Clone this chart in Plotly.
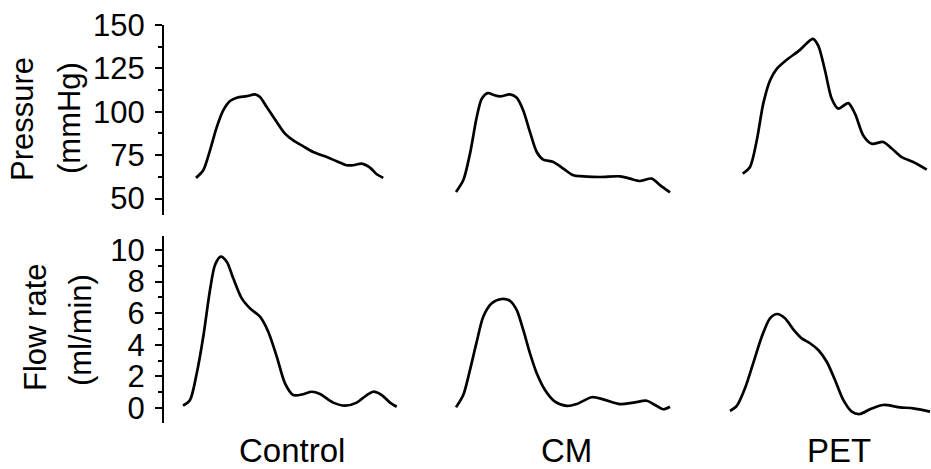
import plotly.graph_objects as go

W, H = 931, 469

# ---- data (time in s, pressure in mmHg, flow in ml/min) ----
ctrl_p_t = [0.052, 0.081, 0.108, 0.135, 0.161, 0.188, 0.215, 0.255, 0.288, 0.308, 0.335, 0.375,
            0.408, 0.441, 0.481, 0.521, 0.575, 0.615, 0.655, 0.681, 0.715, 0.748, 0.775, 0.801]
ctrl_p = [61.9, 66.3, 77.8, 91.2, 100.8, 106.2, 108.1, 109.0, 110.0, 108.5, 102.7, 94.1,
          87.4, 83.5, 80.1, 76.8, 73.9, 71.5, 69.2, 69.2, 70.1, 67.8, 64.0, 61.9]

cm_p_t = [0.0, 0.029, 0.056, 0.083, 0.103, 0.127, 0.149, 0.176, 0.216, 0.243, 0.269, 0.296, 0.323,
          0.349, 0.389, 0.429, 0.469, 0.509, 0.576, 0.656, 0.696, 0.736, 0.783, 0.816, 0.856]
cm_p = [53.8, 60.5, 75.9, 97.0, 107.5, 110.8, 109.8, 108.9, 110.0, 108.1, 100.8, 88.3, 76.8,
        72.4, 71.1, 67.3, 63.4, 62.8, 62.4, 62.8, 61.5, 60.1, 61.5, 57.7, 53.5]

pet_p_t = [0.051, 0.08, 0.107, 0.133, 0.16, 0.187, 0.227, 0.28, 0.307, 0.331, 0.353, 0.38,
           0.407, 0.433, 0.473, 0.5, 0.533, 0.567, 0.613, 0.647, 0.687, 0.733, 0.787]
pet_p = [64.4, 68.2, 83.5, 104.7, 118.1, 124.8, 130.0, 135.7, 139.5, 142.1, 138.2, 123.8,
         107.5, 101.8, 105.0, 98.9, 86.4, 81.6, 82.6, 78.8, 73.9, 71.1, 66.7]

ctrl_f_t = [0.0, 0.028, 0.055, 0.081, 0.108, 0.128, 0.151, 0.175, 0.201, 0.235, 0.268, 0.308,
            0.341, 0.375, 0.408, 0.441, 0.481, 0.515, 0.548, 0.601, 0.648, 0.695, 0.735, 0.761,
            0.795, 0.828, 0.855]
ctrl_f = [0.15, 0.51, 2.2, 4.51, 7.47, 9.05, 9.58, 9.26, 8.21, 6.94, 6.31, 5.78,
          4.83, 3.25, 1.56, 0.82, 0.87, 1.03, 0.89, 0.34, 0.15, 0.34, 0.82, 1.03,
          0.82, 0.34, 0.08]

cm_f_t = [0.0, 0.029, 0.056, 0.083, 0.109, 0.143, 0.183, 0.216, 0.243, 0.269, 0.296, 0.323,
          0.356, 0.396, 0.443, 0.483, 0.543, 0.589, 0.656, 0.709, 0.763, 0.796, 0.829, 0.856]
cm_f = [0.04, 0.82, 2.41, 4.2, 5.78, 6.63, 6.9, 6.79, 6.2, 4.94, 3.46, 2.2,
        1.14, 0.4, 0.13, 0.25, 0.68, 0.55, 0.25, 0.34, 0.46, 0.19, -0.08, 0.08]

pet_f_t = [0.0, 0.027, 0.06, 0.093, 0.127, 0.16, 0.189, 0.22, 0.253, 0.287, 0.32, 0.353,
           0.387, 0.42, 0.453, 0.487, 0.52, 0.56, 0.613, 0.68, 0.733, 0.8]
pet_f = [-0.19, 0.13, 1.25, 2.84, 4.51, 5.68, 5.95, 5.68, 4.98, 4.41, 4.1, 3.67,
         2.93, 1.77, 0.51, -0.23, -0.38, -0.08, 0.19, 0.04, -0.02, -0.23]

groups = ["Control", "CM", "PET"]
p_ticks = [50, 75, 100, 125, 150]
f_ticks = [0, 2, 4, 6, 8, 10]

FONT = "Liberation Sans, Arial, sans-serif"
line = dict(color="black", width=2.7, shape="spline", smoothing=0.8)

fig = go.Figure()
series = [
    ("x", "y", ctrl_p_t, ctrl_p), ("x2", "y", cm_p_t, cm_p), ("x3", "y", pet_p_t, pet_p),
    ("x", "y2", ctrl_f_t, ctrl_f), ("x2", "y2", cm_f_t, cm_f), ("x3", "y2", pet_f_t, pet_f),
]
for xa, ya, t, v in series:
    fig.add_trace(go.Scatter(x=t, y=v, xaxis=xa, yaxis=ya, mode="lines", line=line,
                             hoverinfo="skip", showlegend=False))

def px(x):
    return x / W

def py(y):
    return 1 - y / H

xcommon = dict(visible=False, showgrid=False, zeroline=False, fixedrange=True, automargin=False)
yaxis_common = dict(
    showgrid=False, zeroline=False, showline=True, linecolor="black", linewidth=2,
    ticks="outside", ticklen=7, tickwidth=2, tickcolor="black",
    tickfont=dict(family=FONT, size=31, color="black"),
    anchor="free", position=px(163), ticklabelstandoff=4, automargin=False, fixedrange=True,
)

fig.update_layout(
    template="none",
    width=W, height=H,
    margin=dict(l=0, r=0, t=0, b=0, pad=0, autoexpand=False),
    paper_bgcolor="white", plot_bgcolor="white",
    xaxis=dict(domain=[px(175.5), px(400.5)], range=[-0.03, 0.87], anchor="y", **xcommon),
    xaxis2=dict(domain=[px(448.5), px(673.5)], range=[-0.03, 0.87], anchor="y", **xcommon),
    xaxis3=dict(domain=[px(722.5), 1.0], range=[-0.03, 0.804], anchor="y", **xcommon),
    yaxis=dict(domain=[py(215), py(25)], range=[40.5, 150.05],
               tickvals=p_ticks, ticktext=[str(v) for v in p_ticks],
               minor=dict(ticks="outside", ticklen=4, tickwidth=2, tickcolor="black",
                          tickvals=[37.5 + 25 * i for i in range(5)]),
               **yaxis_common),
    yaxis2=dict(domain=[py(423), py(236)], range=[-0.95, 10.89],
                tickvals=f_ticks, ticktext=[str(v) for v in f_ticks],
                minor=dict(ticks="outside", ticklen=4, tickwidth=2, tickcolor="black",
                           tickvals=[-1, 1, 3, 5, 7, 9]),
                **yaxis_common),
)

ann_font = dict(family=FONT, size=33, color="black")
for name, cx in zip(groups, [292, 566, 839]):
    fig.add_annotation(text=name, x=px(cx), y=py(450), xref="paper", yref="paper",
                       showarrow=False, xanchor="center", yanchor="middle", font=ann_font)

title_font = dict(family=FONT, size=31, color="black")
for txt, cx, cy in [("Pressure", 22, 119), ("(mmHg)", 69, 118),
                    ("Flow rate", 35, 328), ("(ml/min)", 80, 330)]:
    fig.add_annotation(text=txt, x=px(cx), y=py(cy), xref="paper", yref="paper",
                       showarrow=False, textangle=-90, xanchor="center", yanchor="middle",
                       font=title_font)

fig.write_html("out.html", config={"displayModeBar": False, "staticPlot": True},
               post_script="document.body.style.margin='0';")
